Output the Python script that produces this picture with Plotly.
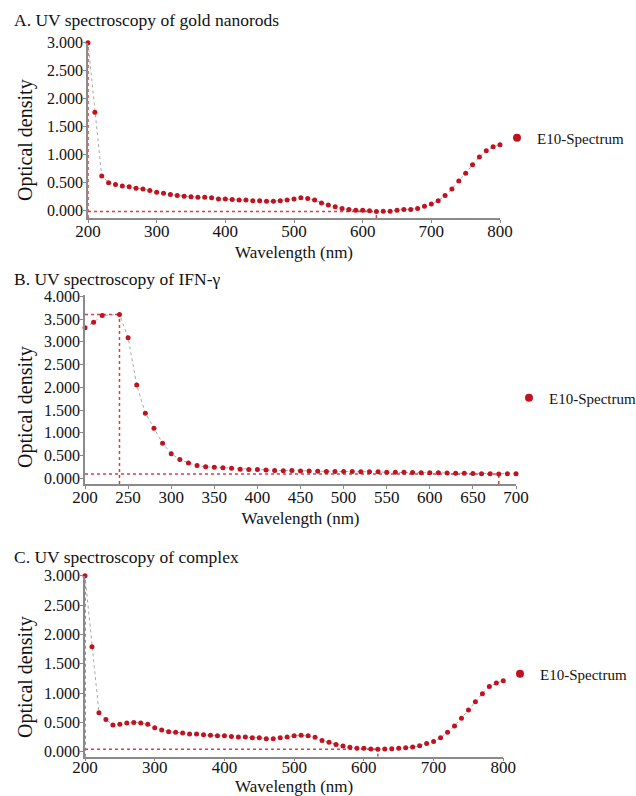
import plotly.graph_objects as go

W, H = 636, 796

# ---------------- data ----------------
wl_a = list(range(200, 801, 10))
od_a = [3.00, 1.76, 0.62, 0.50, 0.47, 0.44, 0.43, 0.40, 0.39, 0.36,
        0.33, 0.31, 0.29, 0.27, 0.26, 0.25, 0.24, 0.24, 0.23, 0.21,
        0.21, 0.20, 0.19, 0.19, 0.18, 0.18, 0.17, 0.17, 0.18, 0.19,
        0.21, 0.23, 0.22, 0.19, 0.14, 0.10, 0.07, 0.04, 0.02, 0.01,
        0.01, 0.00, -0.012, -0.01, -0.01, 0.01, 0.02, 0.02, 0.04, 0.08,
        0.12, 0.18, 0.27, 0.39, 0.53, 0.67, 0.82, 0.96, 1.07, 1.14,
        1.18]

wl_b = [200, 210, 220] + list(range(240, 701, 10))
od_b = [3.31, 3.43, 3.58, 3.60, 3.09, 2.05, 1.43, 1.10, 0.77, 0.54,
        0.41, 0.335, 0.28, 0.25, 0.24, 0.23, 0.22, 0.20, 0.19, 0.19,
        0.18, 0.17, 0.165, 0.17, 0.16, 0.16, 0.155, 0.15, 0.15, 0.15,
        0.15, 0.145, 0.14, 0.14, 0.13, 0.13, 0.13, 0.125, 0.12, 0.12,
        0.12, 0.115, 0.11, 0.11, 0.105, 0.10, 0.10, 0.095, 0.10, 0.10]

wl_c = list(range(200, 801, 10))
od_c = [3.00, 1.79, 0.665, 0.55, 0.455, 0.466, 0.49, 0.50, 0.49, 0.466,
        0.41, 0.37, 0.34, 0.33, 0.32, 0.30, 0.30, 0.29, 0.28, 0.27,
        0.27, 0.26, 0.25, 0.25, 0.24, 0.24, 0.22, 0.22, 0.24, 0.25,
        0.27, 0.28, 0.27, 0.245, 0.19, 0.16, 0.125, 0.097, 0.074, 0.057,
        0.057, 0.047, 0.044, 0.045, 0.05, 0.057, 0.068, 0.08, 0.10, 0.14,
        0.176, 0.24, 0.33, 0.44, 0.57, 0.71, 0.85, 0.99, 1.11, 1.17,
        1.21]

titles = ["A. UV spectroscopy of gold nanorods",
          "B. UV spectroscopy of IFN-\u03b3",
          "C. UV spectroscopy of complex"]
series_name = "E10-Spectrum"
x_title = "Wavelength (nm)"
y_title = "Optical density"

# ---------------- style / layout ----------------
FONT = "Liberation Serif"
RED = "#c3121f"
LINE_RED = "#e23a45"
AX = "#8a8a8a"

def fx(px):
    return px / W

def fy(py):
    return 1 - py / H

panels = [
    dict(wl=wl_a, od=od_a, xr=[200, 800], xd=[88, 500], yr=[-0.13, 3.0], yd=[218, 42.7],
         dx=100, title_y=20, leg=(517, 138), ytitle_y=140, xlab_off=-6, xtitle_so=6),
    dict(wl=wl_b, od=od_b, xr=[200, 700], xd=[85, 516], yr=[-0.127, 4.03], yd=[484, 295],
         dx=50, title_y=279, leg=(529, 398), ytitle_y=407, xlab_off=-6, xtitle_so=6),
    dict(wl=wl_c, od=od_c, xr=[200, 800], xd=[85, 503.3], yr=[-0.085, 3.0], yd=[756.7, 575.7],
         dx=100, title_y=557, leg=(520, 674), ytitle_y=677, xlab_off=-9, xtitle_so=9),
]

fig = go.Figure()
shapes = []
annotations = []
layout = dict(width=W, height=H, margin=dict(l=0, r=0, t=0, b=0, autoexpand=False),
              paper_bgcolor="white", plot_bgcolor="white", showlegend=True,
              font=dict(family=FONT, color="#111"))

for i, p in enumerate(panels):
    n = "" if i == 0 else str(i + 1)
    xa, ya = "x" + n, "y" + n
    leg = "legend" + n
    # connector (grey dotted)
    fig.add_trace(go.Scatter(x=p["wl"], y=p["od"], mode="lines", xaxis=xa, yaxis=ya,
                             line=dict(color="#a8a8a8", width=1, dash="dot"),
                             showlegend=False, hoverinfo="skip", cliponaxis=False))
    # markers
    fig.add_trace(go.Scatter(x=p["wl"], y=p["od"], mode="markers", xaxis=xa, yaxis=ya,
                             marker=dict(color=RED, size=5), name=series_name,
                             showlegend=False, cliponaxis=False))
    # legend entry
    fig.add_trace(go.Scatter(x=[None], y=[None], mode="markers", xaxis=xa, yaxis=ya,
                             marker=dict(color=RED, size=8), name=series_name,
                             legend=leg, showlegend=True))

    # reference lines through max and min points
    od = p["od"]
    imax = od.index(max(od))
    imin = od.index(min(od))
    xmax, ymax = p["wl"][imax], od[imax]
    xmin, ymin = p["wl"][imin], od[imin]
    x0, y0 = p["xr"][0], p["yr"][0]
    ln = dict(color=LINE_RED, width=1.5, dash="dot")
    shapes += [
        dict(type="line", xref=xa, yref=ya, x0=xmax, x1=xmax, y0=y0, y1=ymax, line=ln, layer="below"),
        dict(type="line", xref=xa, yref=ya, x0=x0, x1=xmax, y0=ymax, y1=ymax, line=ln, layer="below"),
        dict(type="line", xref=xa, yref=ya, x0=x0, x1=xmin, y0=ymin, y1=ymin, line=ln, layer="below"),
        dict(type="line", xref=xa, yref=ya, x0=xmin, x1=xmin, y0=y0, y1=ymin, line=ln, layer="below"),
    ]

    ymax_tick = 3.0 if p["yr"][1] < 3.5 else 4.0
    nt = int(round(ymax_tick / 0.5)) + 1
    layout["xaxis" + n] = dict(
        domain=[fx(p["xd"][0]), fx(p["xd"][1])], range=p["xr"], anchor=ya, automargin=False,
        dtick=p["dx"], tick0=0, showgrid=False, zeroline=False, showline=True,
        linecolor=AX, linewidth=1.5, ticks="outside", ticklen=3, tickcolor=AX,
        ticklabelstandoff=p["xlab_off"],
        tickfont=dict(family=FONT, size=17, color="#111"),
        title=dict(text=x_title, font=dict(family=FONT, size=17, color="#111"), standoff=p["xtitle_so"]),
    )
    layout["yaxis" + n] = dict(
        domain=[fy(p["yd"][0]), fy(p["yd"][1])], range=p["yr"], anchor=xa, automargin=False,
        tickvals=[k * 0.5 for k in range(nt)], tickformat=".3f",
        showgrid=False, zeroline=False, showline=True,
        linecolor=AX, linewidth=1.5, ticks="outside", ticklen=3, tickcolor=AX,
        ticklabelstandoff=-3,
        tickfont=dict(family=FONT, size=16, color="#111"),
    )
    layout[leg] = dict(x=fx(p["leg"][0] - 20), y=fy(p["leg"][1]), xanchor="left", yanchor="middle",
                       font=dict(family=FONT, size=15, color="#111"), bgcolor="rgba(0,0,0,0)",
                       borderwidth=0)
    annotations.append(dict(text=titles[i], xref="paper", yref="paper", x=fx(12), y=fy(p["title_y"]),
                            xanchor="left", yanchor="middle", showarrow=False,
                            font=dict(family=FONT, size=17.5, color="#111")))
    annotations.append(dict(text=y_title, xref="paper", yref="paper", x=fx(25), y=fy(p["ytitle_y"]),
                            xanchor="center", yanchor="middle", textangle=-90, showarrow=False,
                            font=dict(family=FONT, size=20, color="#111")))

layout["shapes"] = shapes
layout["annotations"] = annotations
fig.update_layout(**layout)
fig.write_html("out.html", config={"displayModeBar": False},
               post_script="document.body.style.margin='0';"
                           "document.documentElement.style.overflow='hidden';")
